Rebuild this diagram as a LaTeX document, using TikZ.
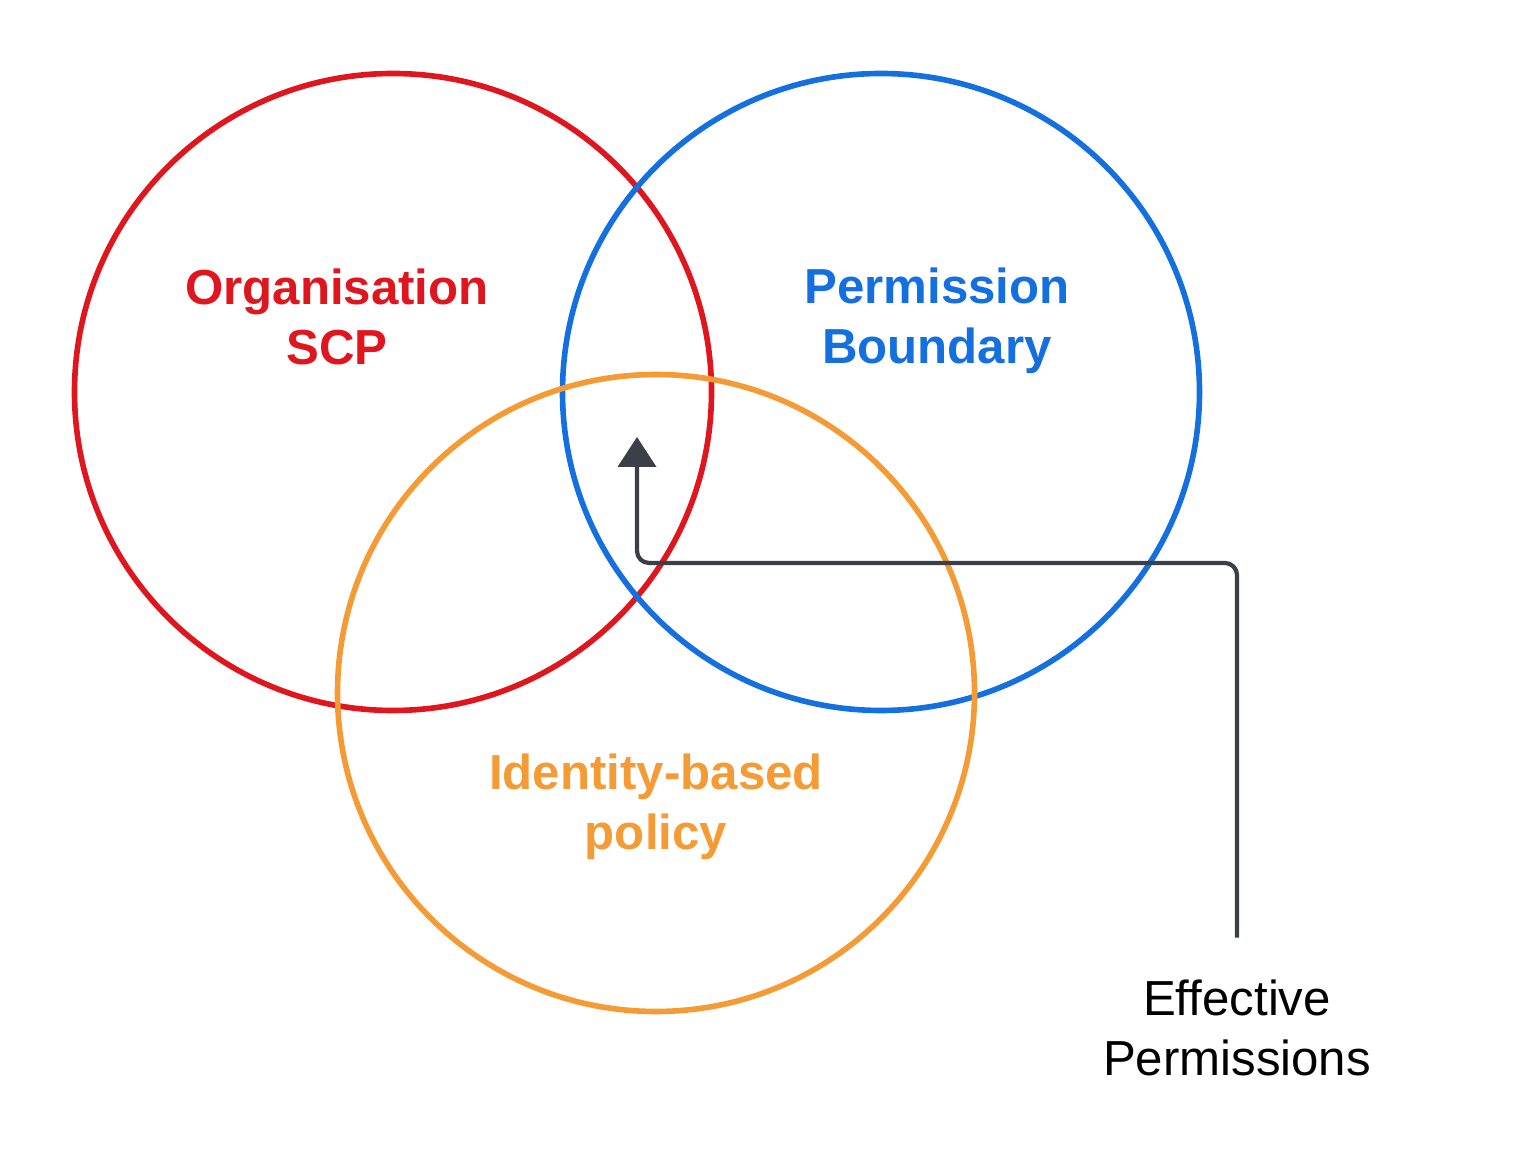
\documentclass[tikz,border=0pt]{standalone}
\usepackage{fontspec}
\setmainfont{Liberation Sans}
\usetikzlibrary{arrows.meta, positioning}
\definecolor{scpred}{HTML}{E0161F}
\definecolor{pbblue}{HTML}{1570DF}
\definecolor{idorange}{HTML}{F59B35}
\definecolor{arrowgray}{HTML}{3B3F47}

\begin{document}
\begin{tikzpicture}[
    ring/.style={draw=#1, circle, line width=1.6pt, minimum size=6.37cm, inner sep=0pt},
    title/.style={text=#1, font=\fontsize{14}{17}\selectfont\bfseries, align=center},
    arrow/.style={-{Triangle[length=3mm, width=3.8mm]}, line width=1.2pt, color=arrowgray, rounded corners=1.2mm}
]
\useasboundingbox (0,0) rectangle (15.38,11.63);
\node[ring=scpred] (scp) at (3.93, 7.71) {};
\node[ring=pbblue] (pb) at (8.81, 7.71) {};
\node[ring=idorange] (idp) at (6.56, 4.70) {};
\node[title=scpred] (scplabel) at (3.37, 8.46) {Organisation\\SCP};
\node[title=pbblue] (pblabel) at (9.37, 8.42) {Permission\\Boundary};
\node[title=idorange] (idplabel) at (6.56, 3.56) {Identity-based\\policy};
\node[font=\fontsize{14}{17}\selectfont, align=center] (eff) at (12.37, 1.35) {Effective\\Permissions};
\coordinate (tip) at (6.37, 7.26);
\draw[arrow] ([yshift=3mm]eff.north) |- (tip |- 0,6.00) -- (tip);
\end{tikzpicture}
\end{document}
